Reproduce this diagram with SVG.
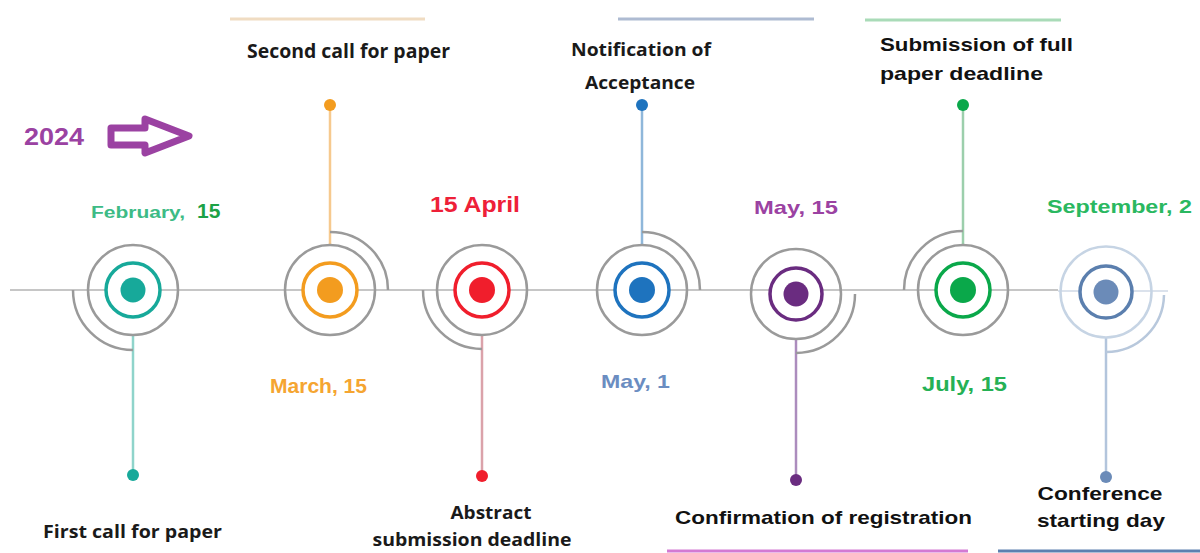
<svg xmlns="http://www.w3.org/2000/svg" width="1200" height="553" viewBox="0 0 1200 553">
<style>
.bg{fill:#ffffff}
.outer{fill:none;stroke:#9a9a9a;stroke-width:2.5}
.arc{fill:none;stroke:#9a9a9a;stroke-width:2.5}
.ring{fill:#ffffff;stroke-width:3.5}
.stem{stroke-width:2.5}
.lbl{font-family:"Open Sans","Liberation Sans",sans-serif;font-weight:bold;fill:#1a1a1a}
.lbl2{font-family:"Liberation Sans",Arial,sans-serif;font-weight:bold;fill:#111111}
.date{font-family:"Liberation Sans",Arial,sans-serif;font-weight:bold}
</style>
<rect class="bg" x="0" y="0" width="1200" height="553"/>

<!-- decorative bars -->
<g id="bars">
<line x1="230" y1="19" x2="425" y2="19" stroke="#f0dcc2" stroke-width="3"/>
<line x1="618" y1="19" x2="814" y2="19" stroke="#aebbd2" stroke-width="3"/>
<line x1="865" y1="20" x2="1061" y2="20" stroke="#a9dbb8" stroke-width="3"/>
<line x1="667" y1="551" x2="968" y2="551" stroke="#d37ad3" stroke-width="3"/>
<line x1="998" y1="551" x2="1200" y2="551" stroke="#5c80b0" stroke-width="3"/>
</g>

<!-- year marker -->
<g id="year">
<text x="24" y="145" class="date" fill="#9b42a2" font-size="23" textLength="60" lengthAdjust="spacingAndGlyphs">2024</text>
<path d="M111,128 L145,128 L145,119 L189,136 L145,153 L145,145 L111,145 Z" fill="#ffffff" stroke="#9b42a2" stroke-width="7" stroke-linejoin="round"/>
</g>

<!-- connectors -->
<g id="connectors">
<line x1="10" y1="290" x2="1058" y2="290" stroke="#c6c6c6" stroke-width="2"/>
<line x1="1058" y1="291" x2="1168" y2="291" stroke="#dbe2ec" stroke-width="2"/>
<line x1="133" y1="335" x2="133" y2="475" stroke="#8fd4cb" class="stem"/>
<line x1="330" y1="245" x2="330" y2="105" stroke="#f6c98e" class="stem"/>
<line x1="482" y1="335" x2="482" y2="476" stroke="#dba2aa" class="stem"/>
<line x1="642" y1="244" x2="642" y2="105" stroke="#8fb7da" class="stem"/>
<line x1="796" y1="339" x2="796" y2="480" stroke="#ac8cbd" class="stem"/>
<line x1="963" y1="245" x2="963" y2="105" stroke="#9ccfac" class="stem"/>
<line x1="1106" y1="338" x2="1106" y2="477" stroke="#b3c5dc" class="stem"/>
</g>

<g id="node-feb">
<circle class="outer" cx="133" cy="290" r="45"/>
<path class="arc" d="M73,290 A60,60 0 0 0 133,350"/>
<circle class="ring" cx="133" cy="290" r="27" stroke="#17a99a"/>
<circle cx="133" cy="290" r="12.5" fill="#17a99a"/>
<circle cx="133" cy="475" r="6" fill="#17a99a"/>
<text class="date" x="91" y="218" font-size="16" fill="#3dbb86" textLength="94" lengthAdjust="spacingAndGlyphs">February,</text>
<text class="date" x="197" y="218" font-size="21" fill="#1da246">15</text>
<text class="lbl" x="43" y="538" font-size="18" textLength="179" lengthAdjust="spacingAndGlyphs">First call for paper</text>
</g>

<g id="node-mar">
<circle class="outer" cx="330" cy="290" r="45"/>
<path class="arc" d="M330,232 A58,58 0 0 1 388,290"/>
<circle class="ring" cx="330" cy="290" r="27" stroke="#f39c1f"/>
<circle cx="330" cy="290" r="13" fill="#f39c1f"/>
<circle cx="330" cy="105" r="6" fill="#f39c1f"/>
<text class="date" x="270" y="393" font-size="20" fill="#f5a531" textLength="97" lengthAdjust="spacingAndGlyphs">March, 15</text>
<text class="lbl" x="247" y="58" font-size="19" textLength="203" lengthAdjust="spacingAndGlyphs">Second call for paper</text>
</g>

<g id="node-apr">
<circle class="outer" cx="482" cy="290" r="45"/>
<path class="arc" d="M423,290 A59,59 0 0 0 482,349"/>
<circle class="ring" cx="482" cy="290" r="27" stroke="#f01e2c"/>
<circle cx="482" cy="290" r="13" fill="#f01e2c"/>
<circle cx="482" cy="476" r="6" fill="#f01e2c"/>
<text class="date" x="430" y="212" font-size="22" fill="#ee2038" textLength="90" lengthAdjust="spacingAndGlyphs">15 April</text>
<text class="lbl" x="491" y="519" font-size="18" text-anchor="middle" textLength="81" lengthAdjust="spacingAndGlyphs">Abstract</text>
<text class="lbl" x="472" y="546" font-size="18" text-anchor="middle" textLength="199" lengthAdjust="spacingAndGlyphs">submission deadline</text>
</g>

<g id="node-may1">
<circle class="outer" cx="642" cy="290" r="45"/>
<path class="arc" d="M642,232 A58,58 0 0 1 700,290"/>
<circle class="ring" cx="642" cy="290" r="27" stroke="#1e73be"/>
<circle cx="642" cy="290" r="13" fill="#1e73be"/>
<circle cx="642" cy="105" r="6" fill="#1e73be"/>
<text class="date" x="601" y="388" font-size="19" fill="#6b8dc1" textLength="69" lengthAdjust="spacingAndGlyphs">May, 1</text>
<text class="lbl" x="641" y="56" font-size="18" text-anchor="middle" textLength="140" lengthAdjust="spacingAndGlyphs">Notification of</text>
<text class="lbl" x="640" y="89" font-size="18" text-anchor="middle" textLength="110" lengthAdjust="spacingAndGlyphs">Acceptance</text>
</g>

<g id="node-may15">
<circle class="outer" cx="796" cy="294" r="45"/>
<path class="arc" d="M855,294 A59,59 0 0 1 796,353"/>
<circle class="ring" cx="796" cy="294" r="26" stroke="#6a2c80"/>
<circle cx="796" cy="294" r="12.5" fill="#6a2c80"/>
<circle cx="796" cy="480" r="6" fill="#6a2c80"/>
<text class="date" x="754" y="214" font-size="19" fill="#9b42a2" textLength="84" lengthAdjust="spacingAndGlyphs">May, 15</text>
<text class="lbl2" x="675" y="524" font-size="19" textLength="297" lengthAdjust="spacingAndGlyphs">Confirmation of registration</text>
</g>

<g id="node-jul">
<circle class="outer" cx="963" cy="290" r="45"/>
<path class="arc" d="M904,290 A59,59 0 0 1 963,231"/>
<circle class="ring" cx="963" cy="290" r="27" stroke="#0aa84a"/>
<circle cx="963" cy="290" r="13" fill="#0aa84a"/>
<circle cx="963" cy="105" r="6" fill="#0aa84a"/>
<text class="date" x="922" y="391" font-size="21" fill="#25b155" textLength="85" lengthAdjust="spacingAndGlyphs">July, 15</text>
<text class="lbl2" x="880" y="51" font-size="19" textLength="193" lengthAdjust="spacingAndGlyphs">Submission of full</text>
<text class="lbl2" x="880" y="80" font-size="19" textLength="163" lengthAdjust="spacingAndGlyphs">paper deadline</text>
</g>

<g id="node-sep">
<circle cx="1106" cy="292" r="45.5" fill="none" stroke="#c6d4e4" stroke-width="2.5"/>
<path d="M1164,295 A58,58 0 0 1 1106,352" fill="none" stroke="#b8c8dc" stroke-width="2.5"/>
<circle class="ring" cx="1106" cy="292" r="26" stroke="#5b7fae"/>
<circle cx="1106" cy="292" r="12.5" fill="#6b8bb8"/>
<circle cx="1106" cy="477" r="6" fill="#6b8bb8"/>
<text class="date" x="1047" y="213" font-size="19" fill="#2ab860" textLength="145" lengthAdjust="spacingAndGlyphs">September, 2</text>
<text class="lbl2" x="1100" y="500" font-size="19" text-anchor="middle" textLength="125" lengthAdjust="spacingAndGlyphs">Conference</text>
<text class="lbl2" x="1101" y="527" font-size="19" text-anchor="middle" textLength="128" lengthAdjust="spacingAndGlyphs">starting day</text>
</g>
</svg>
